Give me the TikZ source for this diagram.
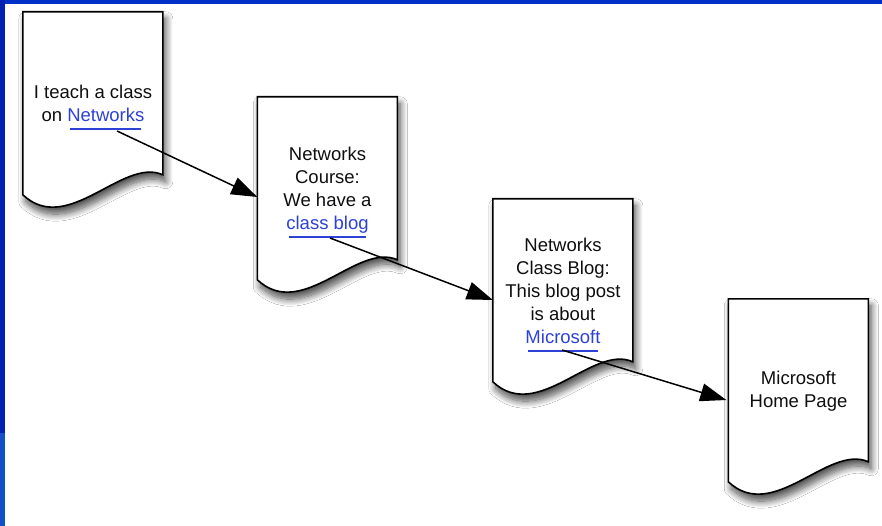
\documentclass[tikz,border=0pt]{standalone}
\usepackage{fontspec}
\setmainfont{Liberation Sans}
\usetikzlibrary{arrows.meta,shadows.blur}
\definecolor{linkblue}{RGB}{45,65,215}
\definecolor{txtblack}{RGB}{15,15,15}
\definecolor{bandtop}{RGB}{0,48,200}
\definecolor{bandleft}{RGB}{0,34,180}
\definecolor{bandlow}{RGB}{20,80,200}
\newcommand\lnk[1]{\setbox0\hbox{#1}\textcolor{linkblue}{\rlap{\hspace{3pt}\raisebox{-8.5pt}[0pt][0pt]{\rule{\dimexpr\wd0-6pt\relax}{2pt}}}#1}}
\newcommand\docpath[1]{\begin{scope}[shift={(#1.north west)}]
  \path[docshape] (0,0) -- (140,0) -- (140,163) .. controls (100,145) and (45,225) .. (0,183) -- cycle;
\end{scope}}
\begin{document}
\begin{tikzpicture}[x=1pt,y=-1pt,
  docbox/.style={minimum width=140pt,minimum height=183pt,inner sep=0pt,align=center,
    text=txtblack,font=\fontsize{18.5pt}{23pt}\selectfont},
  docshape/.style={draw=black,line width=1.6pt,fill=white,
    blur shadow={shadow xshift=3pt,shadow yshift=-7pt,shadow blur radius=7pt,shadow opacity=70,shadow blur steps=12}},
  conn/.style={-{Triangle[length=26pt,width=18pt]},line width=1.5pt,draw=black}]
\useasboundingbox (0,0) rectangle (882,526);
\fill[white] (0,0) rectangle (882,526);
\fill[bandtop] (0,0) rectangle (882,4);
\fill[bandleft] (0,0) rectangle (5,433);
\fill[bandlow] (0,433) rectangle (5,526);
% document nodes (outlines drawn below)
\path (93,103.5) node[docbox] (d1) {};
\path (327.5,188.5) node[docbox] (d2) {};
\path (563,290.5) node[docbox] (d3) {};
\path (798.5,390.5) node[docbox] (d4) {};
\docpath{d1}
\docpath{d2}
\docpath{d3}
\docpath{d4}
\node[docbox] (t1) at (d1.center) {I teach a class\\on \lnk{Networks}};
\node[docbox] (t2) at ([yshift=-2pt]d2.center) {Networks\\Course:\\We have a\\\lnk{class blog}};
\node[docbox] (t3) at (d3.center) {Networks\\Class Blog:\\This blog post\\is about\\\lnk{Microsoft}};
\node[docbox] (t4) at ([yshift=-1pt]d4.center) {Microsoft\\Home Page};
\coordinate (u1) at (117,131);
\coordinate (u2) at (330,238);
\coordinate (u3) at (562,350);
\draw[conn] (u1) -- ([yshift=-8.5pt]d2.west);
\draw[conn] (u2) -- ([yshift=-9.5pt]d3.west);
\draw[conn] (u3) -- ([yshift=-9.5pt,xshift=-2pt]d4.west);
\end{tikzpicture}
\end{document}
